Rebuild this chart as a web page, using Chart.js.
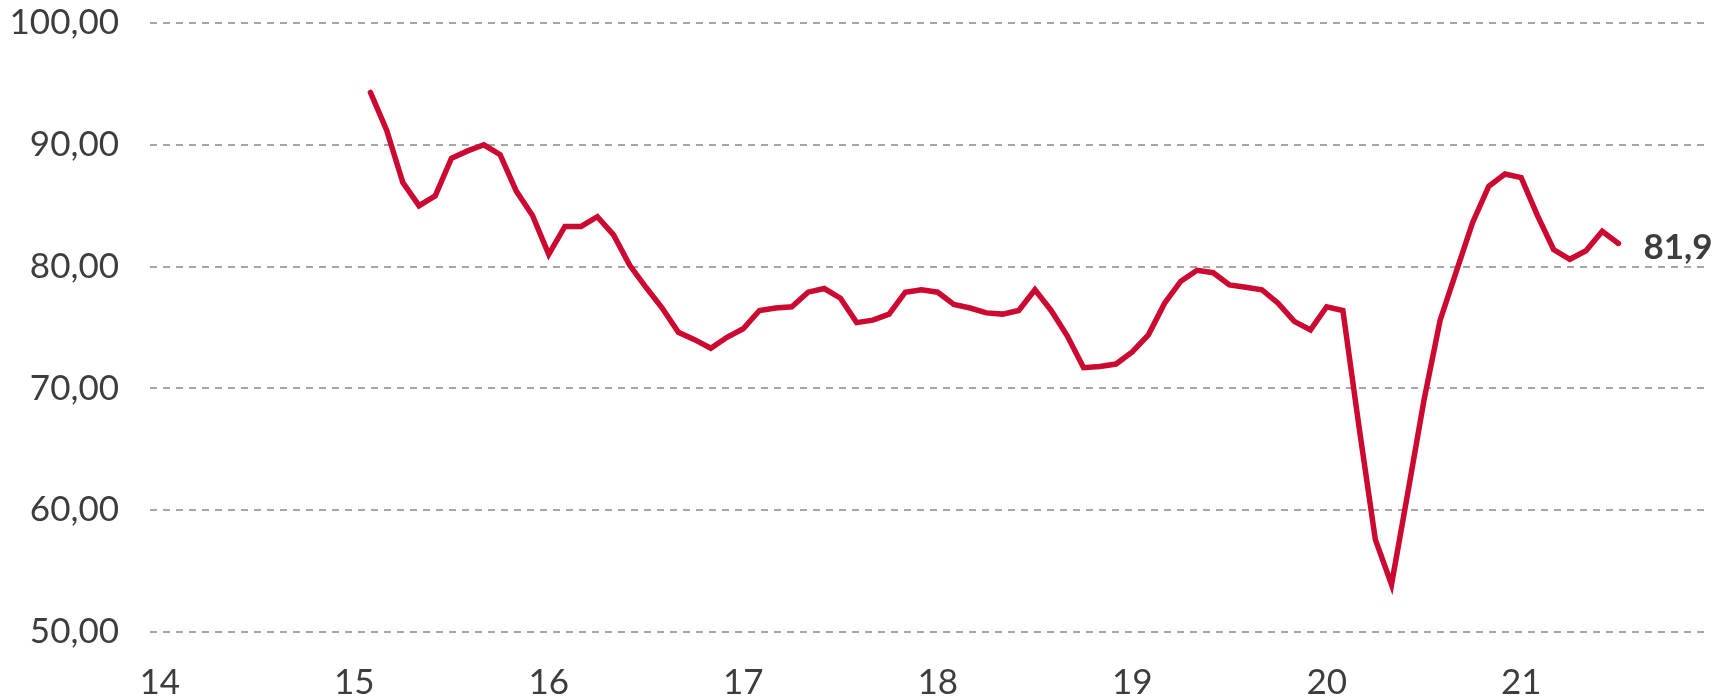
<!DOCTYPE html>
<html>
<head>
<meta charset="utf-8">
<script src="https://cdn.jsdelivr.net/npm/chart.js@4/dist/chart.umd.min.js"></script>
<style>
  body { margin: 0; background: #fff; }
  #wrap { width: 1715px; height: 700px; }
</style>
</head>
<body>
<div id="wrap"><canvas id="myChart"></canvas></div>
<script>
/*-----------------------------Data-------------------------------------------------*/
// monthly index, series starts Feb 2015
const firstYear = 15;
const firstMonth = 2;
const v2015 = [94.3, 91.2, 86.9, 85.0, 85.8, 88.9, 89.5, 90.0, 89.2, 86.2, 84.2];
const v2016 = [81.0, 83.3, 83.3, 84.1, 82.6, 80.1, 78.3, 76.6, 74.6, 74.0, 73.3, 74.2];
const v2017 = [74.9, 76.4, 76.6, 76.7, 77.9, 78.2, 77.4, 75.4, 75.6, 76.1, 77.9, 78.1];
const v2018 = [77.9, 76.9, 76.6, 76.2, 76.1, 76.4, 78.1, 76.4, 74.3, 71.7, 71.8, 72.0];
const v2019 = [73.0, 74.4, 77.0, 78.8, 79.7, 79.5, 78.5, 78.3, 78.1, 77.0, 75.5, 74.8];
const v2020 = [76.7, 76.4, 66.8, 57.6, 53.9, 61.4, 69.0, 75.6, 79.6, 83.6, 86.6, 87.6];
const v2021 = [87.3, 84.2, 81.4, 80.6, 81.3, 82.9, 81.9];

const xTickValues = [14, 15, 16, 17, 18, 19, 20, 21];
const xTickLabels = ['14', '15', '16', '17', '18', '19', '20', '21'];
const yTicks = [50, 60, 70, 80, 90, 100];

const allValues = [].concat(v2015, v2016, v2017, v2018, v2019, v2020, v2021);
const points = allValues.map(function (v, i) {
    return { x: firstYear + (firstMonth - 1 + i) / 12, y: v };
});

const textColor = '#3d3d3d';
const fontName = 'Lato';

/*-----------------------------End label-------------------------------------------------*/
const endLabel = {
    id: 'endLabel',
    afterDatasetsDraw: function (chart) {
        const meta = chart.getDatasetMeta(0);
        const last = meta.data[meta.data.length - 1];
        const ctx = chart.ctx;
        ctx.save();
        ctx.font = 'bold 35px ' + fontName;
        ctx.fillStyle = textColor;
        ctx.textAlign = 'left';
        ctx.textBaseline = 'middle';
        ctx.fillText(allValues[allValues.length - 1].toFixed(1).replace('.', ','), last.x + 25, last.y + 4);
        ctx.restore();
    }
};

/*-----------------------------Chart-------------------------------------------------*/
let myChart = document.getElementById('myChart').getContext('2d');

let lineChart = new Chart(myChart, {
    type: 'line',
    data: {
        datasets: [{
            data: points,
            borderColor: '#cc0a31',
            borderWidth: 5.5,
            borderCapStyle: 'round',
            pointRadius: 0,
            tension: 0,
            fill: false
        }]
    },
    options: {
        responsive: true,
        maintainAspectRatio: false,
        animation: false,
        layout: {
            padding: { top: 23, right: 11, left: 0, bottom: 0 }
        },
        plugins: {
            legend: { display: false },
            tooltip: { enabled: false }
        },
        scales: {
            x: {
                type: 'linear',
                min: 13.95,
                max: 21.94,
                afterBuildTicks: function (scale) {
                    scale.ticks = xTickValues.map(function (v) { return { value: v }; });
                },
                afterFit: function (scale) {
                    scale.height = 68;
                    scale.paddingLeft = 0;
                    scale.paddingRight = 0;
                },
                grid: { display: false, drawTicks: false },
                border: { display: false },
                ticks: {
                    padding: 30,
                    color: textColor,
                    font: { family: fontName, size: 35 },
                    maxRotation: 0,
                    autoSkip: false,
                    callback: function (value) {
                        return xTickLabels[xTickValues.indexOf(value)];
                    }
                }
            },
            y: {
                min: 50,
                max: 100,
                afterBuildTicks: function (scale) {
                    scale.ticks = yTicks.map(function (v) { return { value: v }; });
                },
                afterFit: function (scale) {
                    scale.width = 150;
                    scale.paddingTop = 0;
                    scale.paddingBottom = 0;
                },
                grid: { color: '#a6a6a6', lineWidth: 2, drawTicks: false },
                border: { display: false, dash: [7, 6] },
                ticks: {
                    padding: 31,
                    color: textColor,
                    font: { family: fontName, size: 35 },
                    callback: function (value) {
                        return value.toFixed(2).replace('.', ',');
                    }
                }
            }
        }
    },
    plugins: [endLabel]
});
</script>
</body>
</html>
